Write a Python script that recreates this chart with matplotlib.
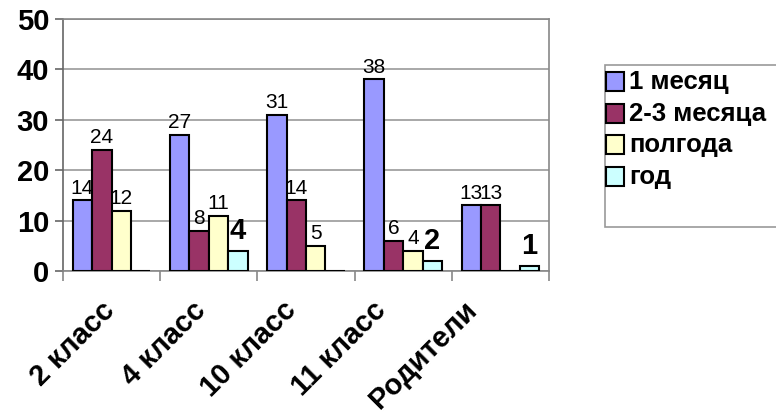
import numpy as np
import matplotlib
matplotlib.use("Agg")
import matplotlib.pyplot as plt
from matplotlib.patches import Rectangle

plt.rcParams['font.family'] = ['Liberation Sans', 'DejaVu Sans']

# --- data ---
categories = ["2 класс", "4 класс", "10 класс", "11 класс", "Родители"]
series_names = ["1 месяц", "2-3 месяца", "полгода", "год"]
month1 = [14, 27, 31, 38, 13]
months23 = [24, 8, 14, 6, 13]
half_year = [12, 11, 5, 4, 0]
year = [0, 4, 0, 2, 1]
series = [month1, months23, half_year, year]
colors = ["#9999FF", "#993366", "#FFFFCC", "#CCFFFF"]

W, H = 776, 418
fig = plt.figure(figsize=(W / 100, H / 100), dpi=100)
ax = fig.add_axes([63 / W, 1 - 271 / H, (549 - 63) / W, (271 - 19) / H])

x = np.arange(len(categories))
width = 0.2
offsets = (np.arange(len(series)) - 1.5) * width
for i, vals in enumerate(series):
    bars = ax.bar(x + offsets[i], vals, width, color=colors[i],
                  edgecolor="black", linewidth=1.5, zorder=3)
    labels = [str(v) if v > 0 else "" for v in vals]
    if i == 3:
        ax.bar_label(bars, labels=labels, padding=4, fontsize=21,
                     fontweight="bold", zorder=4)
    else:
        ax.bar_label(bars, labels=labels, padding=2, fontsize=15, zorder=4)

ax.set_xlim(-0.5, len(categories) - 0.5)
ax.set_ylim(0, 50)
ax.set_yticks(np.arange(0, 51, 10))
ax.yaxis.grid(True, color="#999999", linewidth=1.2, zorder=0)
ax.set_axisbelow(True)

for s in ax.spines.values():
    s.set_color("#888888")
    s.set_linewidth(1.2)
ax.spines["left"].set_color("#666666")

ax.tick_params(axis="y", labelsize=21, length=6, width=1.2, color="#666666", pad=4)
for t in ax.get_yticklabels():
    t.set_fontweight("bold")

# category boundary ticks
ax.set_xticks(np.arange(-0.5, len(categories), 1.0), minor=True)
ax.tick_params(axis="x", which="minor", length=7, width=1.2, color="#888888")
ax.set_xticks(x * 0.93 - 0.11)
ax.set_xticklabels(categories, rotation=45, ha="right", va="top",
                   rotation_mode="anchor", fontsize=21, fontweight="bold")
ax.tick_params(axis="x", which="major", length=0, pad=18)

# legend (frame clipped by the right edge, as in the original)
def fx(px):
    return px / W

def fy(py):
    return 1 - py / H

fig.patches.append(Rectangle((fx(605), fy(227)), fx(800) - fx(605), fy(65) - fy(227),
                             transform=fig.transFigure, facecolor="white",
                             edgecolor="#999999", linewidth=1.2, clip_on=False))
for i, name in enumerate(series_names):
    top = 72 + i * 31.7
    fig.patches.append(Rectangle((fx(606), fy(top + 19)), fx(624) - fx(606), fy(top) - fy(top + 19),
                                 transform=fig.transFigure, facecolor=colors[i],
                                 edgecolor="black", linewidth=1.5))
    fig.text(fx(629), fy(top + 10), name, fontsize=18.5, fontweight="bold",
             ha="left", va="center")

fig.savefig("out.png", dpi=100)
